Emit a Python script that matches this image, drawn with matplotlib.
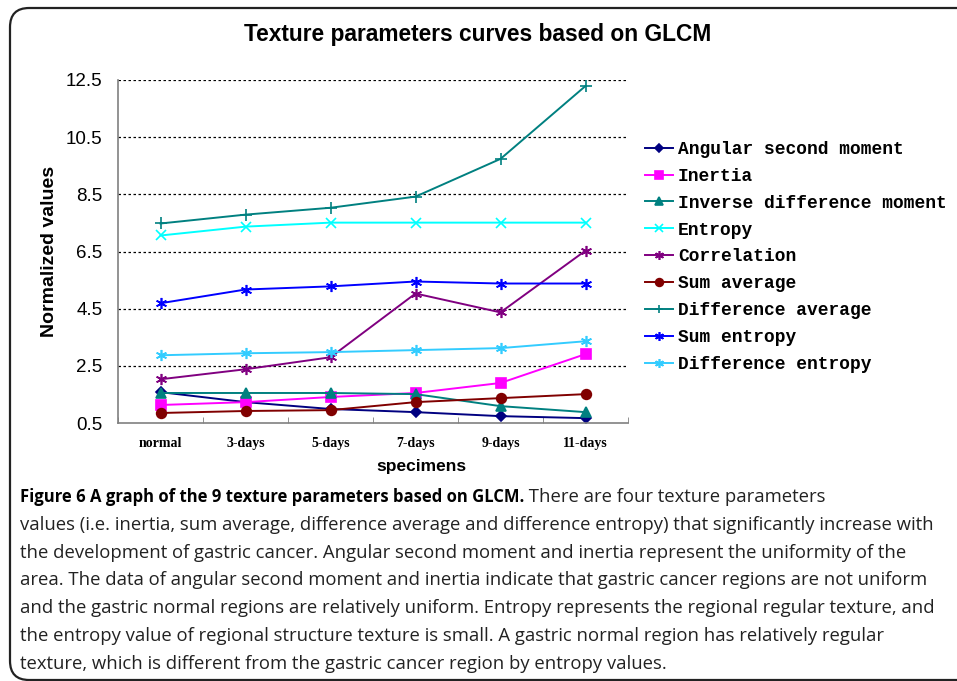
import matplotlib
matplotlib.use("Agg")
import matplotlib.pyplot as plt
import numpy as np
from matplotlib.patches import FancyBboxPatch

# data
specimens = ["normal", "3-days", "5-days", "7-days", "9-days", "11-days"]

angular_second_moment = [1.58, 1.23, 0.99, 0.88, 0.74, 0.67]
inertia = [1.13, 1.23, 1.41, 1.55, 1.90, 2.91]
inverse_difference_moment = [1.55, 1.55, 1.55, 1.51, 1.09, 0.88]
entropy = [7.06, 7.37, 7.51, 7.51, 7.51, 7.51]
correlation = [2.03, 2.38, 2.80, 5.03, 4.37, 6.53]
sum_average = [0.85, 0.92, 0.95, 1.23, 1.37, 1.51]
difference_average = [7.48, 7.79, 8.03, 8.42, 9.74, 12.29]
sum_entropy = [4.69, 5.17, 5.28, 5.45, 5.38, 5.38]
difference_entropy = [2.87, 2.94, 2.98, 3.05, 3.12, 3.36]

y_ticks = [0.5, 2.5, 4.5, 6.5, 8.5, 10.5, 12.5]

series = [
    ("Angular second moment", angular_second_moment, "#000080", "D", 5),
    ("Inertia", inertia, "#FF00FF", "s", 7),
    ("Inverse difference moment", inverse_difference_moment, "#008080", "^", 7),
    ("Entropy", entropy, "#00FFFF", "x", 7),
    ("Correlation", correlation, "#800080", (6, 2, 0), 8),
    ("Sum average", sum_average, "#800000", "o", 7),
    ("Difference average", difference_average, "#008080", "+", 8),
    ("Sum entropy", sum_entropy, "#0000FF", (6, 2, 0), 8),
    ("Difference entropy", difference_entropy, "#33CCFF", (6, 2, 0), 8),
]

caption_bold = "Figure 6 A graph of the 9 texture parameters based on GLCM."
caption_lines = [
    " There are four texture parameters",
    "values (i.e. inertia, sum average, difference average and difference entropy) that significantly increase with",
    "the development of gastric cancer. Angular second moment and inertia represent the uniformity of the",
    "area. The data of angular second moment and inertia indicate that gastric cancer regions are not uniform",
    "and the gastric normal regions are relatively uniform. Entropy represents the regional regular texture, and",
    "the entropy value of regional structure texture is small. A gastric normal region has relatively regular",
    "texture, which is different from the gastric cancer region by entropy values.",
]

W, H = 957, 681
fig = plt.figure(figsize=(W / 100, H / 100), dpi=100)


def fx(px):
    return px / W


def fy(py):
    return 1 - py / H


ax = fig.add_axes([fx(118), fy(423), fx(628) - fx(118), fy(80) - fy(423)])

x = np.arange(len(specimens))
for label, values, color, marker, ms in series:
    ax.plot(x, values, color=color, marker=marker, markersize=ms, linewidth=1.4,
            markeredgewidth=1.2, label=label)

ax.set_xlim(-0.5, len(specimens) - 0.5)
ax.set_ylim(y_ticks[0], y_ticks[-1])
ax.set_yticks(y_ticks)
ax.set_yticklabels([f"{v:.1f}" for v in y_ticks], fontsize=13.5, family="Liberation Sans")
for v in y_ticks[1:]:
    ax.axhline(v, color="black", linestyle=(0, (2, 2)), linewidth=0.9, zorder=0)

ax.set_xticks(x)
ax.set_xticklabels(specimens, fontsize=10, fontweight="bold", family="Liberation Serif")
ax.set_xticks(np.arange(len(specimens) + 1) - 0.5, minor=True)
ax.tick_params(axis="x", which="major", length=0, pad=10)
ax.tick_params(axis="x", which="minor", direction="in", length=4, color="#808080")
ax.tick_params(axis="y", length=0, pad=11)

for side in ["top", "right"]:
    ax.spines[side].set_visible(False)
for side in ["left", "bottom"]:
    ax.spines[side].set_color("#808080")
    ax.spines[side].set_linewidth(1.2)

ax.set_xlabel("specimens", fontsize=12.5, fontweight="bold", family="Liberation Sans")
ax.xaxis.set_label_coords(0.594, -0.106)
ax.set_ylabel("Normalized values", fontsize=14, fontweight="bold", family="Liberation Sans")
ax.yaxis.set_label_coords(-0.117, 0.5)

fig.text(fx(478), fy(35), "Texture parameters curves based on GLCM", fontsize=16.4,
         fontweight="bold", family="Liberation Sans", ha="center", va="center")

fig.legend(loc="upper left", bbox_to_anchor=(fx(636), fy(132)), frameon=False,
           prop={"family": "Liberation Mono", "weight": "bold", "size": 12.9},
           handlelength=1.55, handletextpad=0.3, labelspacing=0.55, borderpad=0,
           markerscale=0.8)

# frame round the figure and caption
frame = FancyBboxPatch((fx(10), fy(680)), 1.2, fy(8) - fy(680),
                       boxstyle="round,pad=0,rounding_size=0.02",
                       transform=fig.transFigure, fill=False, edgecolor="#222222",
                       linewidth=1.6, mutation_aspect=W / H)
fig.add_artist(frame)

fig.canvas.draw()
renderer = fig.canvas.get_renderer()
t = fig.text(fx(20), fy(497), caption_bold, fontsize=12.0, fontweight="bold",
             family="Open Sans", va="center")
bb = t.get_window_extent(renderer)
fig.text(bb.x1 / W, fy(497), caption_lines[0], fontsize=13.3, family="Open Sans",
         va="center", color="#222222")
for i, line in enumerate(caption_lines[1:], start=1):
    fig.text(fx(20), fy(497 + 27.8 * i), line, fontsize=13.3, family="Open Sans",
             va="center", color="#222222")

fig.savefig("out.png", dpi=100)
